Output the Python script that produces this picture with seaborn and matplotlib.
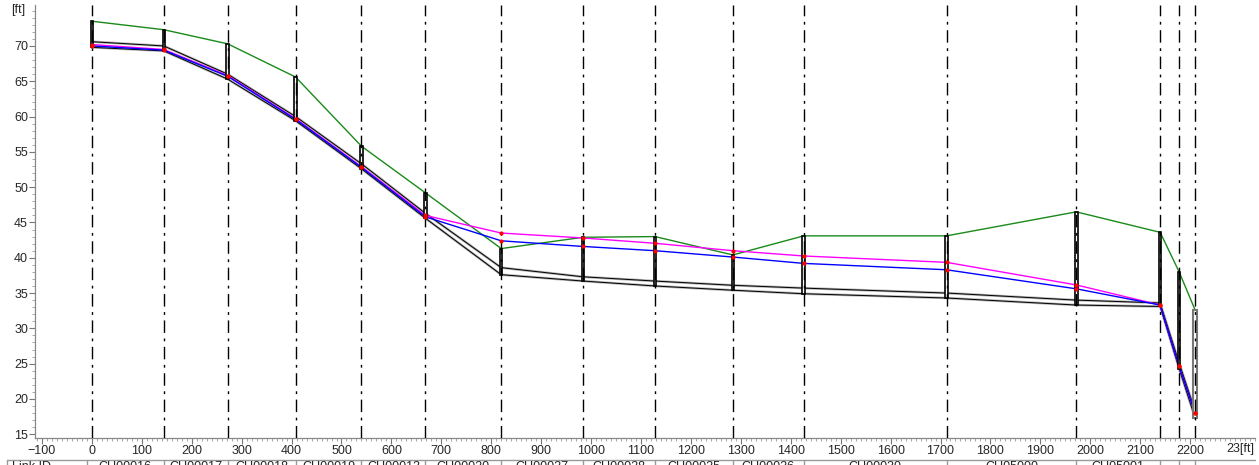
import matplotlib
matplotlib.use("Agg")
import matplotlib.pyplot as plt
import matplotlib.transforms as mtransforms
from matplotlib.ticker import MultipleLocator
import seaborn as sns

# node chainages [ft] along the profile
chainage = [0, 144, 272, 408, 540, 668, 820, 984, 1128, 1284, 1426, 1712, 1972, 2140, 2178, 2210]
ground = [73.5, 72.3, 70.3, 65.6, 55.8, 49.2, 41.3, 42.9, 43.0, 40.4, 43.1, 43.1, 46.5, 43.6, 38.0, 32.6]
crown = [70.6, 70.0, 66.0, 60.0, 53.3, 46.3, 38.6, 37.3, 36.7, 36.1, 35.7, 35.0, 34.0, 33.6, 25.1, 18.3]
invert = [69.8, 69.3, 65.3, 59.4, 52.6, 45.6, 37.6, 36.7, 36.0, 35.4, 34.9, 34.3, 33.3, 33.1, 24.3, 17.3]
wl_max = [70.2, 69.5, 65.8, 59.7, 52.9, 46.0, 43.5, 42.8, 42.05, 41.0, 40.25, 39.35, 36.15, 33.3, 24.6, 18.0]
wl_now = [70.0, 69.4, 65.7, 59.6, 52.8, 45.8, 42.4, 41.6, 41.0, 40.1, 39.2, 38.3, 35.6, 33.3, 24.6, 18.0]

link_ids = ["CU00016", "CU00017", "CU00018", "CU00019", "CU00013", "CU00020", "CU00027",
            "CU00028", "CU00025", "CU00026", "CU00030", "CU05000", "CU05001", "", ""]

sns.set_style("white")
plt.rcParams['font.family'] = ['Liberation Sans', 'DejaVu Sans']

fig = plt.figure(figsize=(12.59, 4.65), dpi=100)
ax = fig.add_axes([35 / 1259, 27 / 465, 1220 / 1259, 433 / 465])

# pipes: light gray halo + black outline
for prof in (crown, invert):
    sns.lineplot(x=chainage, y=prof, ax=ax, color="#b4b4b4", lw=1.8, sort=False, estimator=None, zorder=2)
    sns.lineplot(x=chainage, y=prof, ax=ax, color="black", lw=0.7, sort=False, estimator=None, zorder=3)

sns.lineplot(x=chainage, y=ground, ax=ax, color="#1a8a1a", lw=1.0, sort=False, estimator=None, zorder=4)
sns.lineplot(x=chainage, y=wl_max, ax=ax, color="#ff00ff", lw=1.0, sort=False, estimator=None, zorder=5)
sns.lineplot(x=chainage, y=wl_now, ax=ax, color="#0000ff", lw=1.0, sort=False, estimator=None, zorder=6)

# manholes
heights = [g - i for g, i in zip(ground, invert)]
ax.bar(chainage[:-1], heights[:-1], bottom=invert[:-1], width=5, color="white",
       edgecolor="black", lw=1.2, zorder=7)
ax.bar(chainage[-1], heights[-1], bottom=invert[-1], width=9, color="white",
       edgecolor="#777777", lw=1.5, zorder=7)

# node markers
ax.scatter(chainage, wl_max, s=9, color="red", zorder=9, linewidths=0)
ax.scatter(chainage, wl_now, s=9, color="red", zorder=9, linewidths=0)

# node dash-dot lines
for c in chainage:
    ax.axvline(c, color="black", lw=1.0, ls=(0, (9, 4, 2, 4)), zorder=8)

ax.set_xlim(-114, 2330)
ax.set_ylim(14.47, 75.8)
ax.set_xticks(range(-100, 2201, 100))
ax.set_yticks(range(15, 71, 5))
ax.xaxis.set_minor_locator(MultipleLocator(10))
ax.yaxis.set_minor_locator(MultipleLocator(1))
ax.tick_params(axis="both", which="major", length=4, width=0.8, color="#777777",
               labelsize=9, pad=1, direction="out", bottom=True, left=True)
ax.tick_params(axis="both", which="minor", length=2, width=0.6, color="#999999",
               direction="out", bottom=True, left=True)
for s in ("top", "right"):
    ax.spines[s].set_visible(False)
for s in ("left", "bottom"):
    ax.spines[s].set_color("#888888")
    ax.spines[s].set_linewidth(0.9)

ax.text(2300, -0.012, "23[ft]", transform=mtransforms.blended_transform_factory(ax.transData, ax.transAxes),
        ha="center", va="top", fontsize=9)
fig.text(18 / 1259, 1 - 10 / 465, "[ft]", fontsize=9, ha="center", va="center")

# link table row (cut by figure edge, as in the source view)
tr = mtransforms.blended_transform_factory(ax.transData, fig.transFigure)
ytop = 1 - 460 / 465
seps = [-10] + chainage[1:]
ax.plot([-170, 2330], [ytop, ytop], color="#999999", lw=1, transform=tr, clip_on=False)
for s in [-170] + seps:
    ax.plot([s, s], [ytop, 0], color="#999999", lw=1, transform=tr, clip_on=False)
ax.text(-160, ytop - 0.003, "Link ID", transform=tr, ha="left", va="top", fontsize=9, clip_on=False)
for a, b, name in zip(seps[:-1], seps[1:], link_ids):
    ax.text((a + b) / 2, ytop - 0.003, name, transform=tr, ha="center", va="top", fontsize=9, clip_on=False)

fig.savefig("out.png", dpi=100)
